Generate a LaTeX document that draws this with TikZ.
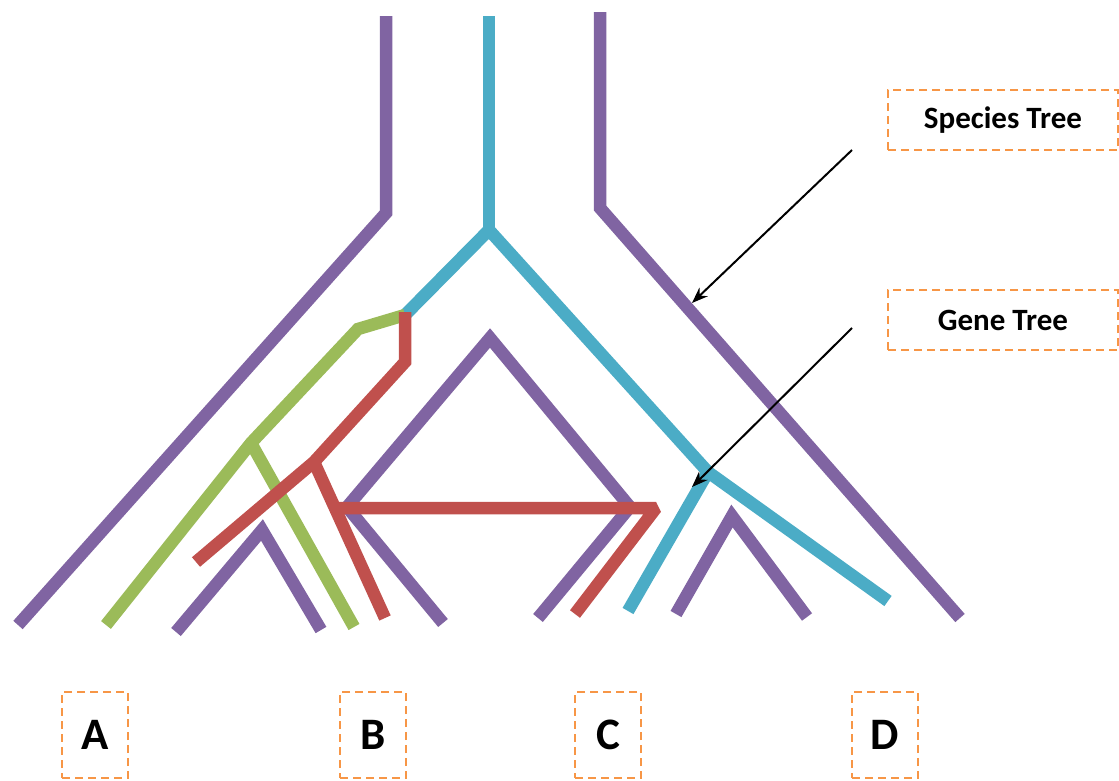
\documentclass[tikz,border=0pt]{standalone}
\usepackage{fontspec}
\setmainfont{Carlito}
\usetikzlibrary{arrows.meta}
\definecolor{tpurple}{HTML}{8064A2}
\definecolor{tcyan}{HTML}{4BACC6}
\definecolor{tgreen}{HTML}{9BBB59}
\definecolor{tred}{HTML}{C0504D}
\definecolor{torange}{HTML}{F79646}
\begin{document}
\begin{tikzpicture}[x=1pt,y=-1pt,
  branch/.style={line width=12.5pt,line cap=butt,line join=miter},
  sp/.style={branch,draw=tpurple},
  gc/.style={branch,draw=tcyan},
  gg/.style={branch,draw=tgreen},
  gr/.style={branch,draw=tred},
  tag/.style={draw=torange,line width=2.5pt,dash pattern=on 8pt off 5pt,inner sep=0pt,font=\bfseries\fontsize{31}{33}\selectfont},
  leaf/.style={draw=torange,line width=2.5pt,dash pattern=on 8pt off 5pt,inner sep=0pt,minimum width=66pt,minimum height=86pt,font=\bfseries\fontsize{45}{47}\selectfont},
  pointer/.style={draw=black,line width=2pt,-{Stealth[length=16pt,width=12pt]}}]
\useasboundingbox (0,0) rectangle (1119,780);
% species tree (purple)
\coordinate (L0) at (386,16); \coordinate (L1) at (386,213); \coordinate (L2) at (18,625);
\coordinate (R0) at (600,12); \coordinate (R1) at (600,208); \coordinate (R2) at (960,618);
\coordinate (AB0) at (176,632); \coordinate (AB1) at (262,530); \coordinate (AB2) at (321,630);
\coordinate (BC0) at (443,623); \coordinate (BC1) at (347,507); \coordinate (BC2) at (490,338);
\coordinate (BC3) at (630,507); \coordinate (BC4) at (538,618);
\coordinate (CD0) at (676,614); \coordinate (CD1) at (732,516); \coordinate (CD2) at (807,617);
\draw[sp] (L0) -- (L1) -- (L2);
\draw[sp] (R0) -- (R1) -- (R2);
\draw[sp] (AB0) -- (AB1) -- (AB2);
\draw[sp] (BC0) -- (BC1) -- (BC2) -- (BC3) -- (BC4);
\draw[sp] (CD0) -- (CD1) -- (CD2);
% gene tree: cyan
\coordinate (G0) at (489,16); \coordinate (G1) at (489,230); \coordinate (G2) at (405,315);
\coordinate (G3) at (708,472); \coordinate (G4) at (888,601); \coordinate (G5) at (628,611);
\draw[gc] (G0) -- (G1);
\draw[gc] (G2) -- (G1) -- (G3) -- (G4);
\draw[gc] (G3) -- (G5);
% gene tree: green
\coordinate (E1) at (358,329); \coordinate (E2) at (251,443);
\coordinate (E3) at (106,625); \coordinate (E4) at (354,627);
\draw[gg] (G2) -- (E1) -- (E2) -- (E3);
\draw[gg] (E2) -- (E4);
% gene tree: red
\coordinate (D0) at (405,312); \coordinate (D1) at (405,362); \coordinate (D2) at (314,462);
\coordinate (D3) at (196,562); \coordinate (D4) at (385,618);
\coordinate (D5) at (335,508); \coordinate (D6) at (656,508); \coordinate (D7) at (575,614);
\draw[gr] (D0) -- (D1) -- (D2) -- (D3);
\draw[gr] (D2) -- (D4);
\draw[gr,line join=bevel] (D5) -- (D6) -- (D7);
% labels
\node[tag,minimum width=230pt,minimum height=60pt] (st) at (1003,120) {Species Tree};
\node[tag,minimum width=230pt,minimum height=60pt] (gt) at (1003,320) {Gene Tree};
\coordinate (sa) at (852,150); \coordinate (sb) at (692,303);
\coordinate (ga) at (852,328); \coordinate (gb) at (692,487);
\draw[pointer] (sa) -- (sb);
\draw[pointer] (ga) -- (gb);
\node[leaf] (A) at (95,735) {A};
\node[leaf] (B) at (373,735) {B};
\node[leaf] (C) at (608,735) {C};
\node[leaf] (D) at (885,735) {D};
\end{tikzpicture}
\end{document}
